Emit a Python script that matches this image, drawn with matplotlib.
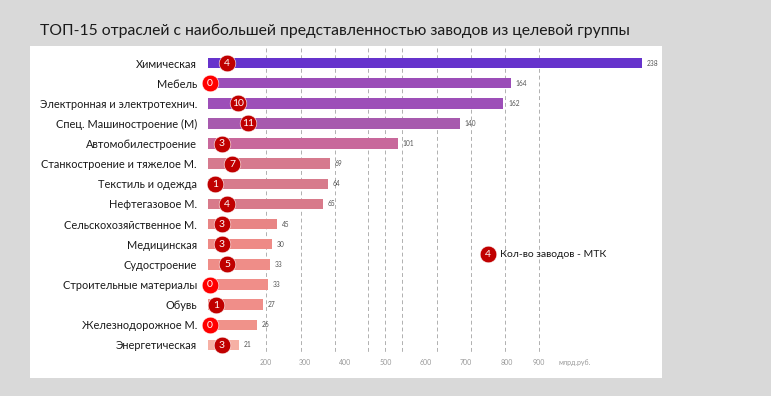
import matplotlib

matplotlib.use("Agg")
import matplotlib.pyplot as plt
from matplotlib.patches import Rectangle

plt.rcParams["font.family"] = ["Lato", "DejaVu Sans"]

# --- data ---
industries = [
    "Химическая", "Мебель", "Электронная и электротехнич.",
    "Спец. Машиностроение (М)", "Автомобилестроение",
    "Станкостроение и тяжелое М.", "Текстиль и одежда", "Нефтегазовое М.",
    "Сельскохозяйственное М.", "Медицинская", "Судостроение",
    "Строительные материалы", "Обувь", "Железнодорожное М.", "Энергетическая",
]
value_labels = [238, 164, 162, 140, 101, 69, 64, 65, 45, 30, 33, 33, 27, 26, 21]
bar_length = [238, 166, 162, 138, 104, 67, 66, 63, 38, 35, 34, 33, 30, 27, 17]
plants_mtk = [4, 0, 10, 11, 3, 7, 1, 4, 3, 3, 5, 0, 1, 0, 3]
axis_tick_labels = ["200", "300", "400", "500", "600", "700", "800", "900"]

# --- layout / style ---
bar_colors = ["#6633cc", "#9b4db8", "#9d4fb8", "#a75aae", "#c8689b",
              "#d67a8e", "#d77b8c", "#d87a8a", "#e88585", "#ee8a86",
              "#ef8d88", "#f08e89", "#f08e89", "#f0928a", "#f6b0a4"]
badge_x = [10.4, 1.1, 16.5, 21.9, 7.7, 13.2, 3.8, 10.4, 7.7, 7.7, 10.4,
           1.1, 4.4, 1.1, 7.7]
grid_x = [31.8, 51.0, 69.6, 87.7, 97.1, 106.4, 125.6, 144.2, 162.9, 181.5]
tick_x = [31.8, 53.2, 75.1, 97.6, 119.5, 141.5, 164.0, 181.5]

W, H = 771, 396
fig = plt.figure(figsize=(W / 100, H / 100), dpi=100)
fig.patch.set_facecolor("#d9d9d9")

# white panel
fig.add_artist(Rectangle((30 / W, 1 - 378 / H), (662 - 30) / W, (378 - 46) / H,
                         transform=fig.transFigure, facecolor="white",
                         edgecolor="none", zorder=0))

fig.text(40 / W, 1 - 31 / H,
         "ТОП-15 отраслей с наибольшей представленностью заводов из целевой группы",
         fontsize=11.3, color="#1a1a1a", va="center", ha="left")

# axes: 1 unit = 1.8235 px, bars start at x=208 px
scale = 1.8235
x0_px, x1_px = 208, 662
top_px, bot_px = 46, 378
row0, step = 63, 20.14
ax = fig.add_axes([x0_px / W, 1 - bot_px / H, (x1_px - x0_px) / W,
                   (bot_px - top_px) / H])
ax.set_xlim(0, (x1_px - x0_px) / scale)
ax.set_ylim((bot_px - row0) / step, (top_px - row0) / step)
ax.patch.set_alpha(0)
for s in ax.spines.values():
    s.set_visible(False)

n = len(industries)
rows = list(range(n))

ax.vlines(grid_x, -0.75, 14.4, colors="#b0b0b0", linestyles=(0, (4, 3)),
          linewidth=0.7, zorder=1)

ax.barh(rows, bar_length, height=0.52, color=bar_colors, zorder=2)

for i in rows:
    ax.text(bar_length[i] + 2.5, i, str(value_labels[i]), fontsize=4.8,
            color="#555555", va="center", ha="left", zorder=3)
    c = "#ff0000" if plants_mtk[i] == 0 else "#c00000"
    ax.plot(badge_x[i], i, "o", markersize=12, color=c, mec="white",
            mew=0.4, zorder=4, clip_on=False)
    ax.text(badge_x[i], i + 0.02, str(plants_mtk[i]), fontsize=7.5,
            color="white", ha="center", va="center", zorder=5)

ax.set_yticks(rows)
ax.set_yticklabels(industries, fontsize=7.9, color="#1a1a1a")
ax.tick_params(axis="y", length=0, pad=8)
ax.set_xticks([])

for x, lab in zip(tick_x, axis_tick_labels):
    ax.text(x, 14.85, lab, fontsize=5, color="#999999", ha="center",
            va="center")
ax.text(201, 14.85, "млрд.руб.", fontsize=5, color="#999999", ha="center",
        va="center")

# legend badge
ax.plot((488 - x0_px) / scale, 9.5, "o", markersize=12, color="#c00000",
        mec="white", mew=0.4, zorder=4)
ax.text((488 - x0_px) / scale, 9.52, "4", fontsize=7.5, color="white",
        ha="center", va="center", zorder=5)
ax.text((500 - x0_px) / scale, 9.5, "Кол-во заводов - МТК", fontsize=7.5,
        color="#1a1a1a", ha="left", va="center")

fig.savefig("out.png", dpi=100)
